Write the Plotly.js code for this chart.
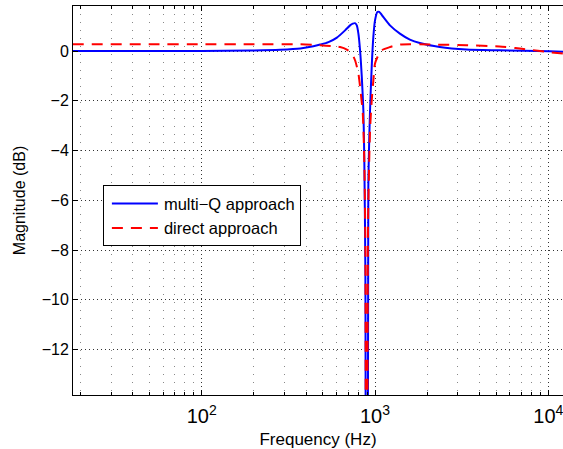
<!DOCTYPE html>
<html>
<head>
<meta charset="utf-8">
<script src="https://cdn.plot.ly/plotly-3.0.1.min.js"></script>
<style>html,body{margin:0;padding:0;background:#fff;}#chart{width:563px;height:449px;}</style>
</head>
<body>
<div id="chart"></div>
<script>
// multi-Q approach (blue, solid)
const multiQFreq = [18, 20, 50, 100, 191, 284, 371, 441, 483, 539, 603, 672, 718, 745, 767, 785, 802, 820, 839, 857, 868, 880, 894, 915, 936, 957, 978, 1000, 1031, 1058, 1116, 1220, 1392, 1589, 1813, 2363, 3365, 5227, 10140, 12150];
const multiQMag  = [0, 0, 0, 0, 0.02, 0.05, 0.1, 0.19, 0.26, 0.36, 0.54, 0.83, 1.03, 1.1, 1.12, 1.03, 0.7, 0.03, -1.04, -2.4, -4.5, -9, -60, -5.5, -2.4, -0.64, 0.56, 1.23, 1.57, 1.57, 1.37, 1.03, 0.7, 0.46, 0.32, 0.16, 0.06, 0.03, -0.01, -0.03];
// direct approach (red, dashed)
const directFreq = [18, 50, 100, 200, 371, 440, 483, 560, 629, 688, 735, 767, 802, 828, 850, 868, 880, 894, 912, 936, 957, 978, 1000, 1040, 1093, 1220, 1392, 2154, 3365, 5227, 6457, 7676, 9860, 12150];
const directMag  = [0.27, 0.27, 0.27, 0.27, 0.27, 0.25, 0.23, 0.2, 0.16, 0.06, -0.1, -0.37, -0.9, -1.7, -2.5, -4.5, -8, -60, -7, -3.2, -2, -1.2, -0.5, -0.2, 0.03, 0.16, 0.26, 0.26, 0.23, 0.18, 0.12, 0.06, -0.04, -0.1];

const seriesNames = ['multi\u2212Q approach', 'direct approach'];
const yTicks = [0, -2, -4, -6, -8, -10, -12];

const fam = 'Liberation Sans, Arial, sans-serif';
const tickFont = {family: fam, size: 16, color: '#000'};
const legendFont = {family: fam, size: 16.5, color: '#000'};

const traces = [
  {x: multiQFreq, y: multiQMag, type: 'scatter', mode: 'lines', name: seriesNames[0],
   line: {color: '#0000ff', width: 2, shape: 'spline', smoothing: 0.6}},
  {x: directFreq, y: directMag, type: 'scatter', mode: 'lines', name: seriesNames[1],
   line: {color: '#ff0000', width: 2, dash: '11px,8px', shape: 'spline', smoothing: 0.6}}
];

const layout = {
  width: 563, height: 449,
  margin: {l: 73, r: 0, t: 6, b: 54, pad: 0},
  paper_bgcolor: '#fff', plot_bgcolor: '#fff',
  font: tickFont,
  showlegend: true,
  legend: {x: 0.061, y: 0.539, xanchor: 'left', yanchor: 'top',
           bgcolor: '#fff', bordercolor: '#000', borderwidth: 1,
           font: legendFont, tracegroupgap: 0, itemwidth: 50},
  xaxis: {
    type: 'log',
    range: [Math.log10(18.1), Math.log10(12150)],
    dtick: 1,
    exponentformat: 'power',
    showline: true, linecolor: '#000', linewidth: 1, mirror: 'ticks',
    ticks: 'inside', ticklen: 5, tickcolor: '#000',
    ticklabelstandoff: 4, ticklabeloverflow: 'allow',
    showgrid: true, gridcolor: '#333', griddash: '1px,3px', gridwidth: 1,
    minor: {dtick: 'D1', ticks: 'inside', ticklen: 3, tickcolor: '#000',
            showgrid: true, gridcolor: '#888', griddash: '1px,7px', gridwidth: 1},
    zeroline: false,
    tickfont: tickFont,
    title: {text: 'Frequency (Hz)', font: {family: fam, size: 17, color: '#000'}, standoff: 6}
  },
  yaxis: {
    range: [-13.83, 1.81],
    tickvals: yTicks,
    showline: true, linecolor: '#000', linewidth: 1, mirror: false,
    ticks: 'inside', ticklen: 5, tickcolor: '#000',
    showgrid: true, gridcolor: '#333', griddash: '1px,3px', gridwidth: 1,
    zeroline: false,
    tickfont: tickFont,
    title: {text: 'Magnitude (dB)', font: {family: fam, size: 16, color: '#000'}, standoff: 12}
  }
};

Plotly.newPlot('chart', traces, layout, {staticPlot: true, displayModeBar: false}).then(function (gd) {
  // lengthen the legend line samples to match the reference
  document.querySelectorAll('#chart .legend .legendlines path').forEach(function (p) {
    p.setAttribute('d', 'M8,0h46');
  });
});
</script>
</body>
</html>
